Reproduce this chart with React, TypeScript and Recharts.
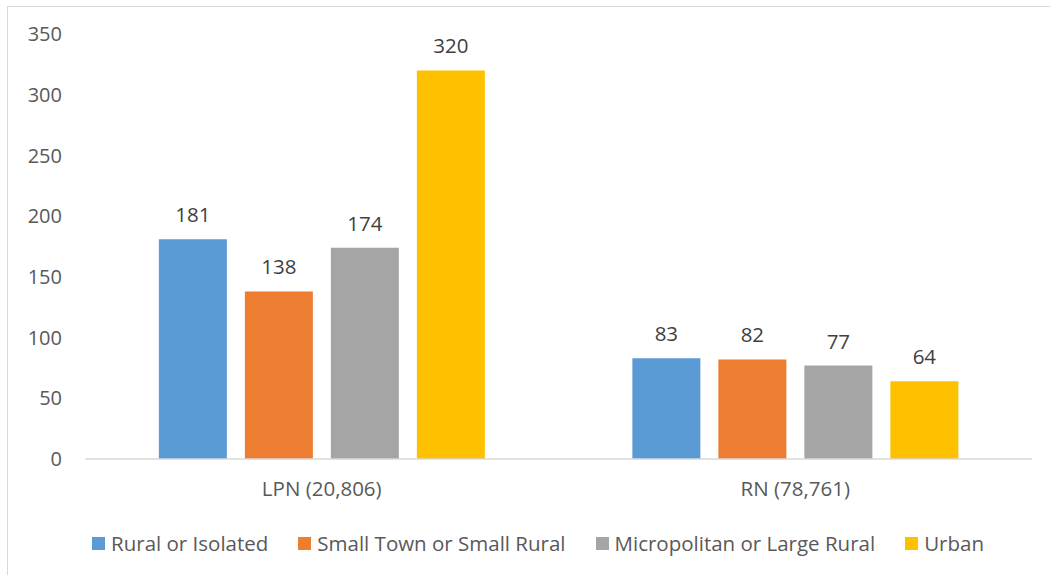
import React from 'react';
import { Bar, BarChart, XAxis, YAxis, Legend, LabelList } from 'recharts';

const categories = ['LPN (20,806)', 'RN (78,761)'];
const ruralOrIsolated = [181, 83];
const smallTownOrSmallRural = [138, 82];
const micropolitanOrLargeRural = [174, 77];
const urban = [320, 64];
const yTicks = [0, 50, 100, 150, 200, 250, 300, 350];

const series = [
  { key: 'rural', name: 'Rural or Isolated', color: '#5B9BD5', values: ruralOrIsolated },
  { key: 'smallTown', name: 'Small Town or Small Rural', color: '#ED7D31', values: smallTownOrSmallRural },
  { key: 'micro', name: 'Micropolitan or Large Rural', color: '#A5A5A5', values: micropolitanOrLargeRural },
  { key: 'urban', name: 'Urban', color: '#FFC000', values: urban },
];

const data = categories.map((name, i) => {
  const row: Record<string, string | number> = { name };
  series.forEach((s) => {
    row[s.key] = s.values[i];
  });
  return row;
});

const font = '"Open Sans", "Segoe UI", sans-serif';

function LegendContent() {
  return (
    <div
      style={{
        display: 'flex',
        justifyContent: 'center',
        fontFamily: font,
        fontSize: 20.5,
        color: '#595959',
        paddingLeft: 26,
      }}
    >
      {series.map((s, i) => (
        <div
          key={s.key}
          style={{ display: 'flex', alignItems: 'center', marginRight: i === series.length - 1 ? 0 : 30 }}
        >
          <span style={{ width: 13, height: 13, background: s.color, marginRight: 6, display: 'inline-block' }} />
          <span>{s.name}</span>
        </div>
      ))}
    </div>
  );
}

export default function App() {
  return (
    <div style={{ position: 'fixed', left: 0, top: 0, width: 1050, height: 575, background: '#fff' }}>
      <div
        style={{
          position: 'absolute',
          left: 7,
          top: 6,
          width: 1100,
          height: 620,
          border: '1px solid #d9d9d9',
        }}
      />
      <div style={{ position: 'absolute', left: 0, top: 0 }}>
        <BarChart
          width={1050}
          height={575}
          data={data}
          margin={{ top: 34, right: 18, bottom: 86, left: 0 }}
          barGap={18}
          barCategoryGap="15.6%"
        >
          <XAxis
            dataKey="name"
            height={30}
            axisLine={{ stroke: '#d9d9d9', strokeWidth: 1.5 }}
            tickLine={false}
            tickMargin={16}
            tick={{ fill: '#595959', fontSize: 20.5, fontFamily: font }}
          />
          <YAxis
            width={85}
            domain={[0, 350]}
            ticks={yTicks}
            axisLine={false}
            tickLine={false}
            tickMargin={17}
            tick={{ fill: '#595959', fontSize: 20, fontFamily: font }}
          />
          <Legend
            layout="horizontal"
            verticalAlign="middle"
            align="center"
            wrapperStyle={{ top: 529, left: 0, width: 1050 }}
            content={<LegendContent />}
          />
          {series.map((s) => (
            <Bar key={s.key} dataKey={s.key} name={s.name} fill={s.color} isAnimationActive={false}>
              <LabelList
                dataKey={s.key}
                position="top"
                offset={17}
                style={{ fill: '#404040', fontSize: 20.5, fontFamily: font }}
              />
            </Bar>
          ))}
        </BarChart>
      </div>
    </div>
  );
}
